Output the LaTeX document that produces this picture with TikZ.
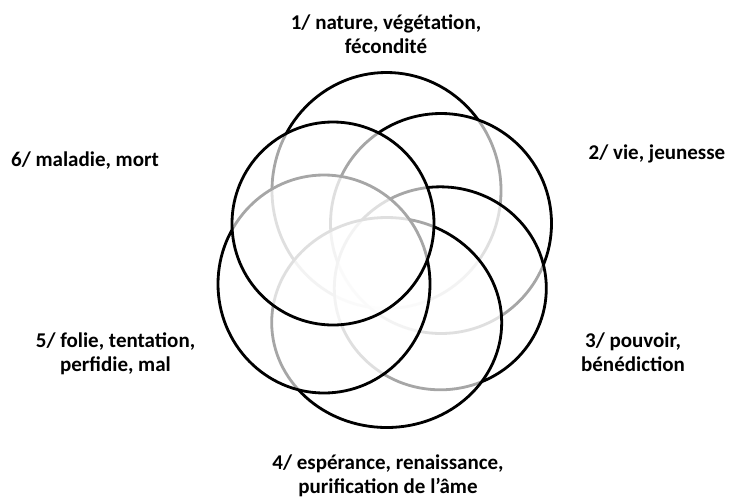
\documentclass[tikz,border=0pt]{standalone}
\usepackage{fontspec}
\setmainfont{Carlito}
\usetikzlibrary{shapes.geometric}

\begin{document}
\begin{tikzpicture}[
  x=1pt, y=-1pt,
  ring/.style={ellipse, draw=black, line width=2.8pt, fill=white, fill opacity=0.65,
               inner sep=0pt},
  lab/.style={align=center, inner sep=0pt, anchor=base,
              font=\fontsize{21}{24}\selectfont\bfseries}
]
\useasboundingbox (0,0) rectangle (730,499);
% circles, drawn from the bottom layer up
\node[ring, minimum width=229pt, minimum height=236pt] (c1) at (386.5,190.5) {};
\node[ring, minimum width=221pt, minimum height=220pt] (c2) at (441,223.5) {};
\node[ring, minimum width=212pt, minimum height=203pt] (c3) at (440.3,288.3) {};
\node[ring, minimum width=230pt, minimum height=210pt] (c4) at (386.7,322.5) {};
\node[ring, minimum width=212pt, minimum height=218pt] (c5) at (324,284) {};
\node[ring, minimum width=202pt, minimum height=203pt] (c6) at (333,223.5) {};
% labels (placed at the last baseline)
\node[lab] (t1) at (386,53.5) {1/ nature, végétation,\\fécondité};
\node[lab] (t2) at (657,159.5) {2/ vie, jeunesse};
\node[lab] (t3) at (633,371.5) {3/ pouvoir,\\bénédiction};
\node[lab] (t4) at (388,493.5) {4/ espérance, renaissance,\\purification de l’âme};
\node[lab] (t5) at (115.5,371.5) {5/ folie, tentation,\\perfidie, mal};
\node[lab] (t6) at (85,166.5) {6/ maladie, mort};
\end{tikzpicture}
\end{document}
